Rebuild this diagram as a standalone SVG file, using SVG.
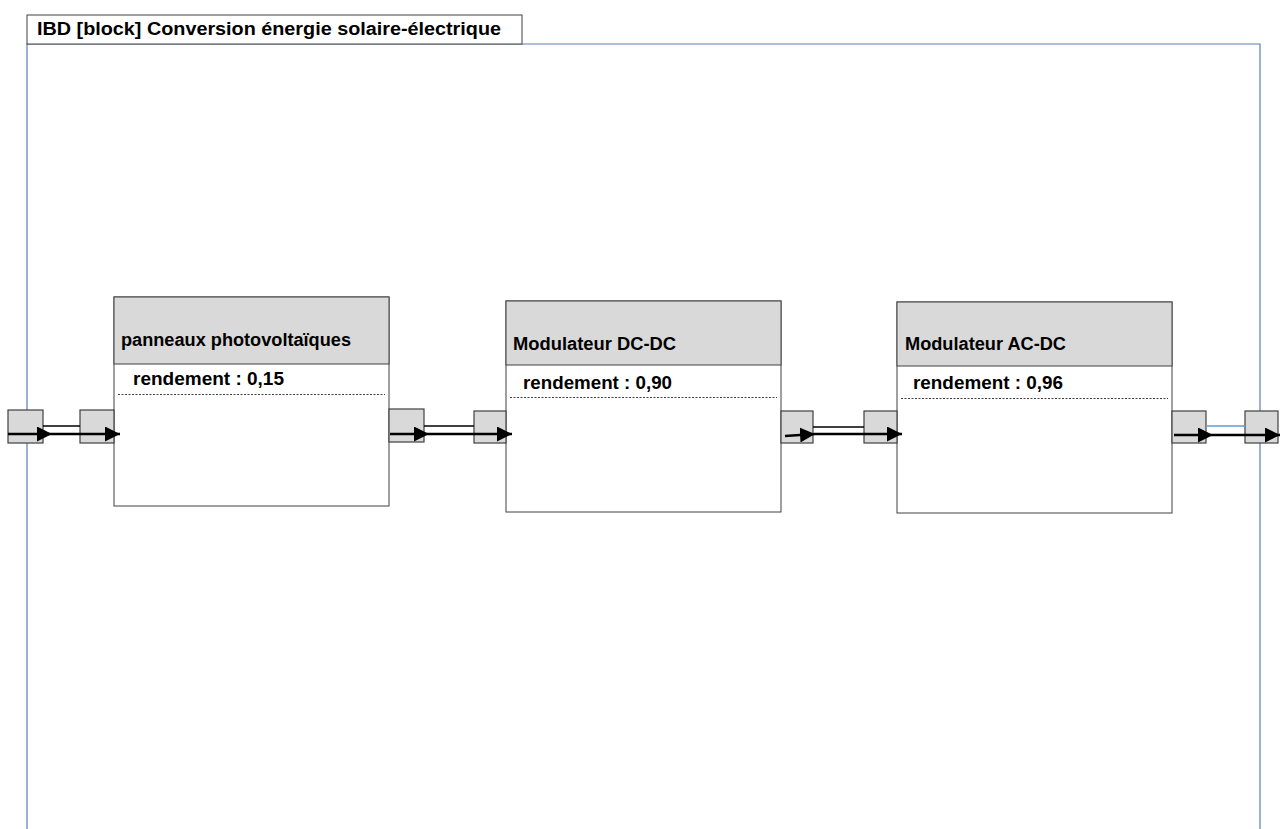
<svg xmlns="http://www.w3.org/2000/svg" width="1282" height="829" viewBox="0 0 1282 829">
<defs>
<style>
.frame{fill:none;stroke:#5a7fb5;stroke-width:1.2}
.tab{fill:#fff;stroke:#404040;stroke-width:1}
.blk{fill:#fff;stroke:#404040;stroke-width:1}
.hdr{fill:#d9d9d9;stroke:#404040;stroke-width:1}
.port{fill:#d9d9d9;stroke:#404040;stroke-width:1.2}
.dot{stroke:#404040;stroke-width:1;stroke-dasharray:2 1.5;fill:none}
.t{font-family:"Liberation Sans",Arial,sans-serif;font-weight:bold;font-size:17.5px;fill:#000}
.thin{stroke:#000;stroke-width:1.3;fill:none}
.thick{stroke:#000;stroke-width:2.6;fill:none}
</style>
<marker id="arr" viewBox="0 0 10 10" refX="10" refY="5" markerWidth="15" markerHeight="15" markerUnits="userSpaceOnUse" orient="auto">
<path d="M0,0 L10,5 L0,10 z" fill="#000"/>
</marker>
</defs>
<rect width="1282" height="829" fill="#fff"/>
<g id="frame">
<path class="frame" d="M27,829 L27,44 L1260,44 L1260,829"/>
<rect class="tab" x="27" y="15" width="495" height="29"/>
<text class="t" x="37" y="35" textLength="464" lengthAdjust="spacingAndGlyphs">IBD [block] Conversion énergie solaire-électrique</text>
</g>
<g id="block-pv">
<rect class="blk" x="114" y="297" width="275" height="209"/>
<rect class="hdr" x="114" y="297" width="275" height="67"/>
<text class="t" x="121" y="346" textLength="230" lengthAdjust="spacingAndGlyphs">panneaux photovoltaïques</text>
<text class="t" x="133" y="385" textLength="151" lengthAdjust="spacingAndGlyphs">rendement : 0,15</text>
<line class="dot" x1="118" y1="394.5" x2="385" y2="394.5"/>
</g>
<g id="block-dcdc">
<rect class="blk" x="506" y="301" width="275" height="211"/>
<rect class="hdr" x="506" y="301" width="275" height="64"/>
<text class="t" x="513" y="350" textLength="163" lengthAdjust="spacingAndGlyphs">Modulateur DC-DC</text>
<text class="t" x="523" y="389" textLength="149" lengthAdjust="spacingAndGlyphs">rendement : 0,90</text>
<line class="dot" x1="510" y1="397.5" x2="777" y2="397.5"/>
</g>
<g id="block-acdc">
<rect class="blk" x="897" y="302" width="275" height="211"/>
<rect class="hdr" x="897" y="302" width="275" height="64"/>
<text class="t" x="905" y="350" textLength="161" lengthAdjust="spacingAndGlyphs">Modulateur AC-DC</text>
<text class="t" x="913" y="389" textLength="150" lengthAdjust="spacingAndGlyphs">rendement : 0,96</text>
<line class="dot" x1="901" y1="398.5" x2="1168" y2="398.5"/>
</g>
<g id="ports">
<rect id="port-frame-in" class="port" x="8" y="410" width="35" height="33"/>
<rect id="port-pv-in" class="port" x="80" y="410" width="34" height="33"/>
<rect id="port-pv-out" class="port" x="389" y="409" width="35" height="33"/>
<rect id="port-dcdc-in" class="port" x="474" y="411" width="32" height="32"/>
<rect id="port-dcdc-out" class="port" x="781" y="411" width="32" height="32"/>
<rect id="port-acdc-in" class="port" x="864" y="411" width="33" height="32"/>
<rect id="port-acdc-out" class="port" x="1172" y="411" width="34" height="32"/>
<rect id="port-frame-out" class="port" x="1245" y="411" width="33" height="32"/>
</g>
<g id="connectors">
<line class="thin" x1="43" y1="426" x2="80" y2="426"/>
<line class="thin" x1="424" y1="426" x2="474" y2="426"/>
<line class="thin" x1="813" y1="427" x2="864" y2="427"/>
<line x1="1206" y1="426" x2="1245" y2="426" stroke="#5b9bd5" stroke-width="1.3"/>
<line class="thick" x1="8" y1="434" x2="52" y2="434" marker-end="url(#arr)"/>
<line class="thick" x1="52" y1="434" x2="120" y2="434" marker-end="url(#arr)"/>
<line class="thick" x1="390" y1="434" x2="429" y2="434" marker-end="url(#arr)"/>
<line class="thick" x1="429" y1="434" x2="512" y2="434" marker-end="url(#arr)"/>
<line class="thick" x1="785" y1="436" x2="815" y2="434" marker-end="url(#arr)"/>
<line class="thick" x1="815" y1="434" x2="902" y2="434" marker-end="url(#arr)"/>
<line class="thick" x1="1174" y1="435" x2="1213" y2="435" marker-end="url(#arr)"/>
<line class="thick" x1="1213" y1="435" x2="1280" y2="435" marker-end="url(#arr)"/>
</g>
</svg>
